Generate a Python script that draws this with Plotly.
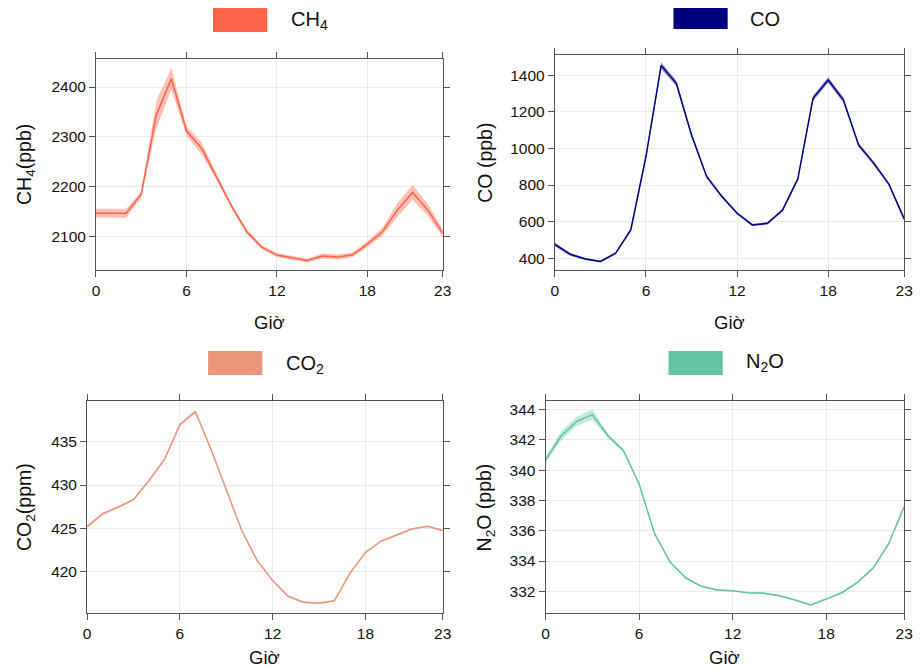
import plotly.graph_objects as go

hours = list(range(24))

ch4 = [2146, 2146, 2146, 2184, 2344, 2417, 2312, 2277, 2220, 2160, 2109, 2078,
       2062, 2056, 2051, 2060, 2058, 2062, 2084, 2109, 2153, 2188, 2153, 2106]
ch4_ci = [9, 9, 9, 6, 28, 22, 10, 12, 7, 5, 5, 4, 4, 4, 4, 5, 5, 5, 6, 8, 14, 15, 12, 8]

co = [476, 422, 396, 382, 427, 555, 956, 1453, 1356, 1074, 846, 737,
      646, 582, 591, 664, 834, 1274, 1374, 1265, 1019, 919, 804, 615]
co_ci = [10, 8, 6, 6, 7, 9, 12, 18, 16, 12, 10, 8, 7, 7, 7, 8, 10, 15, 16, 15, 11, 9, 8, 8]

co2 = [425.18, 426.65, 427.42, 428.31, 430.51, 432.95, 437.0, 438.5, 434.19, 429.35,
       424.72, 421.24, 418.92, 417.1, 416.4, 416.3, 416.6, 419.77, 422.16, 423.48,
       424.21, 424.9, 425.22, 424.72]
co2_ci = [0.15, 0.15, 0.15, 0.15, 0.15, 0.15, 0.2, 0.2, 0.15, 0.12, 0.12, 0.1,
          0.1, 0.1, 0.1, 0.1, 0.1, 0.1, 0.1, 0.1, 0.1, 0.1, 0.12, 0.12]

n2o = [340.67, 342.28, 343.23, 343.67, 342.28, 341.29, 339.09, 335.79, 333.92, 332.88,
       332.33, 332.09, 332.04, 331.91, 331.87, 331.71, 331.43, 331.1, 331.49, 331.91,
       332.59, 333.52, 335.13, 337.59]
n2o_ci = [0.2, 0.3, 0.3, 0.35, 0.15, 0.12, 0.1, 0.08, 0.06, 0.05, 0.05, 0.05,
          0.05, 0.05, 0.05, 0.05, 0.05, 0.05, 0.05, 0.05, 0.06, 0.07, 0.08, 0.1]

x_ticks = [0, 6, 12, 18, 23]
x_label = "Giờ"

W, H = 924, 668
FONT = "Liberation Sans, Arial, sans-serif"

panels = [
    dict(name="CH<sub>4</sub>", ytitle="CH<sub>4</sub>(ppb)", y=ch4, ci=ch4_ci,
         line="#FF6347", band="rgba(255,99,71,0.40)", swatch="#FF6347",
         dom=(93.3, 445, 58.7, 270), rng=(2032, 2457), dtick=100,
         sw=(212, 267, 8, 32), lab=(289, 20), ytx=22, xtly=323),
    dict(name="CO", ytitle="CO (ppb)", y=co, ci=co_ci,
         line="#000080", band="rgba(0,0,128,0.40)", swatch="#000080",
         dom=(558.7, 913, 55, 270.3), rng=(334, 1511), dtick=200,
         sw=(679, 734, 8, 29), lab=(755, 19), ytx=488, xtly=323),
    dict(name="CO<sub>2</sub>", ytitle="CO<sub>2</sub>(ppm)", y=co2, ci=co2_ci,
         line="#E9967A", band="rgba(233,150,122,0.40)", swatch="#E9967A",
         dom=(84.3, 445, 401.3, 613.3), rng=(415.13, 439.7), dtick=5,
         sw=(207, 262, 351, 375), lab=(284, 364), ytx=22, xtly=657),
    dict(name="N<sub>2</sub>O", ytitle="N<sub>2</sub>O (ppb)", y=n2o, ci=n2o_ci,
         line="#66C2A5", band="rgba(102,194,165,0.40)", swatch="#66C2A5",
         dom=(549.3, 913, 401.3, 613.3), rng=(330.55, 344.55), dtick=2,
         sw=(674, 729, 351, 375), lab=(751, 362), ytx=488, xtly=657),
]

fig = go.Figure()
shapes = []
annotations = []
axis_common = dict(showline=True, linecolor="#555555", linewidth=1, mirror="ticks",
                   ticks="outside", ticklen=6, tickcolor="#555555", tickwidth=1,
                   showgrid=True, gridcolor="#ebebeb", gridwidth=1, zeroline=False,
                   tickfont=dict(family=FONT, size=15.5, color="#111111"))

for i, p in enumerate(panels):
    k = "" if i == 0 else str(i + 1)
    xa, ya = "x" + k, "y" + k
    upper = [v + c for v, c in zip(p["y"], p["ci"])]
    lower = [v - c for v, c in zip(p["y"], p["ci"])]
    fig.add_trace(go.Scatter(x=hours, y=lower, mode="lines", line=dict(width=0),
                             xaxis=xa, yaxis=ya, showlegend=False, hoverinfo="skip"))
    fig.add_trace(go.Scatter(x=hours, y=upper, mode="lines", line=dict(width=0),
                             fill="tonexty", fillcolor=p["band"],
                             xaxis=xa, yaxis=ya, showlegend=False, hoverinfo="skip"))
    fig.add_trace(go.Scatter(x=hours, y=p["y"], mode="lines",
                             line=dict(color=p["line"], width=1.5),
                             xaxis=xa, yaxis=ya, showlegend=False))
    x0, x1, y0, y1 = p["dom"]
    fig.layout["xaxis" + k] = dict(axis_common, domain=[x0 / W, x1 / W], range=[0, 23],
                                   tickvals=x_ticks, anchor=ya)
    fig.layout["yaxis" + k] = dict(axis_common, domain=[1 - y1 / H, 1 - y0 / H],
                                   range=list(p["rng"]), dtick=p["dtick"], anchor=xa)
    sx0, sx1, sy0, sy1 = p["sw"]
    shapes.append(dict(type="rect", xref="paper", yref="paper",
                       x0=sx0 / W, x1=sx1 / W, y0=1 - sy1 / H, y1=1 - sy0 / H,
                       fillcolor=p["swatch"], line=dict(width=0)))
    annotations.append(dict(text=p["name"], xref="paper", yref="paper",
                            x=p["lab"][0] / W, y=1 - p["lab"][1] / H,
                            xanchor="left", yanchor="middle", showarrow=False,
                            font=dict(family=FONT, size=20, color="#111111")))
    annotations.append(dict(text=p["ytitle"], xref="paper", yref="paper",
                            x=p["ytx"] / W, y=1 - ((y0 + y1) / 2) / H, textangle=-90,
                            xanchor="center", yanchor="middle", showarrow=False,
                            font=dict(family=FONT, size=19.5, color="#111111")))
    annotations.append(dict(text=x_label, xref="paper", yref="paper",
                            x=((x0 + x1) / 2) / W, y=1 - p["xtly"] / H,
                            xanchor="center", yanchor="middle", showarrow=False,
                            font=dict(family=FONT, size=18.5, color="#111111")))

fig.update_layout(width=W, height=H, margin=dict(l=0, r=0, t=0, b=0),
                  paper_bgcolor="white", plot_bgcolor="white",
                  shapes=shapes, annotations=annotations, showlegend=False)

fig.write_html("out.html", config={"displayModeBar": False},
               post_script="document.body.style.margin='0';document.body.style.overflow='hidden';")
